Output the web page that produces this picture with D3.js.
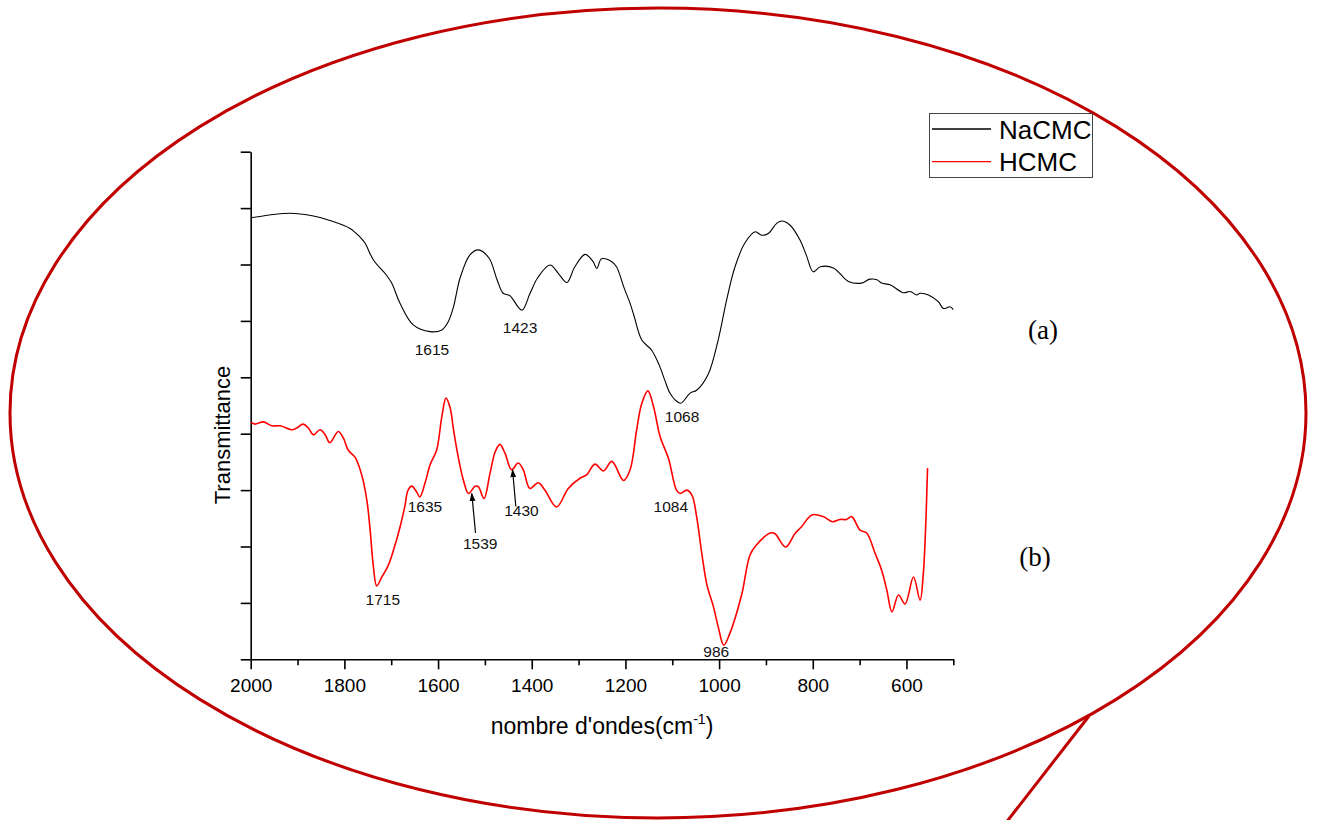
<!DOCTYPE html>
<html><head><meta charset="utf-8">
<script src="https://cdn.jsdelivr.net/npm/d3@7"></script>
<style>
html,body{margin:0;padding:0;background:#fff;}
svg{display:block;font-family:Arial,"Liberation Sans",sans-serif;}
</style></head>
<body><svg id="c" width="1322" height="820"></svg>
<script>
// wavenumber (cm-1) and transmittance (arb. units)
const nacmcWn = [1998,1916,1866,1831,1788,1767,1756,1738,1710,1699,1681,1653,1617,1592,1578,1567,1553,1532,1514,1491,1474,1461,1447,1421,1404,1387,1361,1343,1325,1308,1286,1269,1261,1251,1229,1219,1203,1190,1182,1165,1144,1128,1116,1105,1094,1082,1062,1048,1023,1002,984,966,945,923,909,895,877,866,849,827,814,799,784,756,724,696,678,663,653,635,607,592,578,571,553,532,521,507,500];
const nacmcT  = [78.3,79.1,78.6,77.8,76.4,74.9,73.8,70.8,68.1,66.7,63.1,59.3,58.1,58.4,59.9,62.5,67.6,71.7,72.6,71.1,67.3,64.9,64.5,61.9,64.8,67.7,69.9,68.4,66.8,69.6,71.8,70.5,69.3,71.0,70.5,69.6,65.9,63.1,61.0,56.6,54.8,52.2,49.5,47.2,46.0,45.4,47.2,47.7,50.6,56.6,63.7,69.6,73.8,75.8,75.2,75.5,77.3,77.7,77.0,74.3,71.7,68.7,69.6,69.4,67.0,66.7,67.4,67.3,66.7,66.4,65.0,65.2,64.6,64.9,64.6,63.4,62.2,62.5,62.0];
const hcmcWn = [1999,1991,1973,1955,1937,1912,1902,1888,1877,1866,1852,1841,1831,1813,1802,1792,1777,1763,1752,1745,1738,1731,1720,1706,1696,1681,1671,1664,1656,1646,1639,1628,1617,1603,1592,1583,1574,1567,1557,1546,1535,1521,1514,1502,1489,1478,1468,1457,1443,1429,1418,1404,1386,1372,1347,1322,1297,1283,1265,1247,1229,1204,1190,1176,1165,1152,1140,1126,1108,1091,1083,1069,1058,1048,1037,1026,1012,1002,990,977,952,934,920,891,881,858,838,824,802,778,758,742,728,717,699,685,667,653,642,631,617,603,585,571,564,555];
const hcmcT  = [42.0,41.7,42.1,41.4,41.4,40.7,41.0,41.7,41.0,39.8,40.7,39.8,38.4,40.4,39.2,37.1,35.8,32.7,28.2,22.9,16.4,13.0,14.6,16.7,19.1,23.5,27.1,30.0,30.7,29.7,28.8,31.2,34.5,37.1,43.0,46.3,44.5,40.7,35.9,31.8,29.4,30.7,30.6,28.5,33.0,36.8,38.1,36.5,33.6,34.8,33.6,30.3,31.3,30.0,27.0,30.3,32.1,32.7,34.6,33.4,35.1,31.7,33.6,40.7,45.4,47.6,44.8,39.5,35.6,30.0,29.4,30.0,29.1,25.3,18.8,13.2,9.3,5.8,2.5,4.6,11.4,18.5,20.3,22.4,22.3,19.9,22.3,23.5,25.6,25.3,24.4,24.8,24.8,25.3,22.9,22.4,18.8,15.8,12.3,8.4,11.4,9.8,14.6,10.5,15.2,33.9];

const xMajorTicks = [2000,1800,1600,1400,1200,1000,800,600];
const xMinorTicks = [1900,1700,1500,1300,1100,900,700,500];
const yTicks = [0,10,20,30,40,50,60,70,80,90];

const seriesNames = ["NaCMC","HCMC"];
const seriesColors = ["#000000","#ff0000"];

// peak annotations: label, wn, value (baseline)
const peakLabels = ["1615","1423","1068","1635","1539","1430","1715","1084","986"];
const peakWn     = [1613,1425,1079,1628,1510,1422,1718,1103,1006];
const peakT      = [54.0,57.9,42.1,26.1,19.6,25.4,9.6,26.1,0.4];
// arrows: tail (wn,T) -> tip (wn,T)
const arrowTailWn = [1520,1434];
const arrowTailT  = [22.4,27.1];
const arrowTipWn  = [1528,1441];
const arrowTipT   = [29.4,33.6];

const svg = d3.select("#c");
const x = d3.scaleLinear().domain([2000,500]).range([250.7,953.3]);
const y = d3.scaleLinear().domain([0,90]).range([659.3,151.7]);

// callout ellipse
svg.append("ellipse").attr("cx",658).attr("cy",413).attr("rx",648).attr("ry",405)
  .attr("fill","none").attr("stroke","#c00000").attr("stroke-width",3);
svg.append("line").attr("x1",1089).attr("y1",716).attr("x2",1005).attr("y2",824)
  .attr("stroke","#c00000").attr("stroke-width",3);

// axes
const gx = svg.append("g").attr("transform",`translate(0,${y(0)})`)
  .call(d3.axisBottom(x).tickValues(xMajorTicks).tickFormat(d3.format("d")).tickSize(10).tickPadding(9).tickSizeOuter(0));
gx.selectAll("text").attr("font-size",19).attr("font-family","Arial, 'Liberation Sans', sans-serif").attr("fill","#000");
const gxm = svg.append("g").attr("transform",`translate(0,${y(0)})`)
  .call(d3.axisBottom(x).tickValues(xMinorTicks).tickSize(6).tickFormat("").tickSizeOuter(0));
gxm.select(".domain").remove();
const gy = svg.append("g").attr("transform",`translate(${x(2000)},0)`)
  .call(d3.axisLeft(y).tickValues(yTicks).tickSize(10).tickFormat("").tickSizeOuter(0));
svg.selectAll(".domain, .tick line").attr("stroke","#000").attr("stroke-width",1.6);

// titles
const xt = svg.append("text").attr("x",602).attr("y",734).attr("text-anchor","middle")
  .attr("font-size",23).attr("fill","#000");
xt.append("tspan").text("nombre d'ondes(cm");
xt.append("tspan").attr("font-size",14).attr("dy",-10).text("-1");
xt.append("tspan").attr("dy",10).text(")");
svg.append("text").attr("transform","translate(230,435) rotate(-90)").attr("text-anchor","middle")
  .attr("font-size",22).attr("fill","#000").text("Transmittance");

// lines
const line = d3.line().x(d=>x(d[0])).y(d=>y(d[1])).curve(d3.curveCatmullRom.alpha(0.5));
const nacmc = nacmcWn.map((w,i)=>[w,nacmcT[i]]);
const hcmc = hcmcWn.map((w,i)=>[w,hcmcT[i]]);
svg.append("path").datum(nacmc).attr("d",line).attr("fill","none").attr("stroke",seriesColors[0]).attr("stroke-width",1.1);
svg.append("path").datum(hcmc).attr("d",line).attr("fill","none").attr("stroke",seriesColors[1]).attr("stroke-width",1.6);

// peak labels
peakLabels.forEach((t,i)=>{
  svg.append("text").attr("x",x(peakWn[i])).attr("y",y(peakT[i])).attr("text-anchor","middle")
    .attr("font-size",15.5).attr("fill","#111").text(t);
});
// arrows
svg.append("defs").append("marker").attr("id","ah").attr("viewBox","0 0 10 10").attr("refX",9).attr("refY",5)
  .attr("markerWidth",7).attr("markerHeight",7).attr("orient","auto-start-reverse")
  .append("path").attr("d","M0,1.5 L10,5 L0,8.5 z").attr("fill","#000");
arrowTailWn.forEach((w,i)=>{
  svg.append("line").attr("x1",x(w)).attr("y1",y(arrowTailT[i])).attr("x2",x(arrowTipWn[i])).attr("y2",y(arrowTipT[i]))
    .attr("stroke","#000").attr("stroke-width",1.2).attr("marker-end","url(#ah)");
});

// legend
const lg = svg.append("g");
lg.append("rect").attr("x",929.5).attr("y",113.5).attr("width",163).attr("height",64)
  .attr("fill","#fff").attr("stroke","#444").attr("stroke-width",1);
seriesNames.forEach((n,i)=>{
  const yy = 129 + i*32.7;
  lg.append("line").attr("x1",932).attr("x2",991).attr("y1",yy).attr("y2",yy).attr("stroke",seriesColors[i]).attr("stroke-width",1.3);
  lg.append("text").attr("x",999).attr("y",yy+9.5).attr("font-size",26).attr("fill","#000").text(n);
});

// (a) (b)
svg.append("text").attr("x",1043).attr("y",339).attr("text-anchor","middle")
  .attr("font-family","'Liberation Serif','Times New Roman',serif").attr("font-size",27).text("(a)");
svg.append("text").attr("x",1035).attr("y",566).attr("text-anchor","middle")
  .attr("font-family","'Liberation Serif','Times New Roman',serif").attr("font-size",27).text("(b)");
</script></body></html>
